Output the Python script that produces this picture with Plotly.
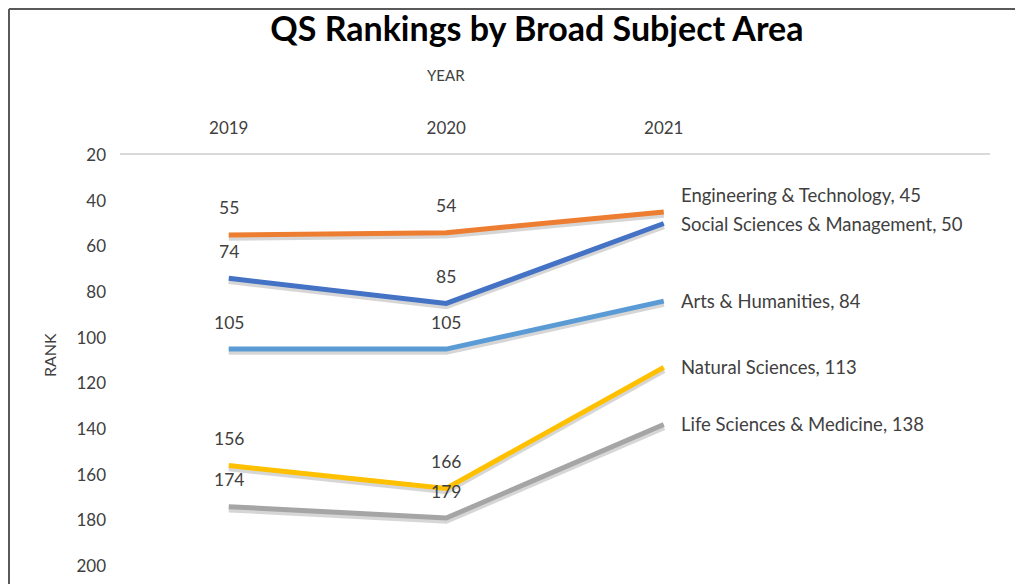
"""QS rankings by broad subject area, as a slope-style line chart."""
import plotly.graph_objects as go

YEARS = ["2019", "2020", "2021"]
SUBJECTS = [
    "Engineering & Technology",
    "Social Sciences & Management",
    "Arts & Humanities",
    "Natural Sciences",
    "Life Sciences & Medicine",
]
ENGINEERING = [55, 54, 45]
SOCIAL = [74, 85, 50]
ARTS = [105, 105, 84]
NATURAL = [156, 166, 113]
LIFE = [174, 179, 138]

SERIES = [ENGINEERING, SOCIAL, ARTS, NATURAL, LIFE]
COLORS = ["#ED7D31", "#4472C4", "#5B9BD5", "#FFC000", "#A5A5A5"]
END_LABEL_SHIFT = [17, 0, 0, 0, 0]

TEXT = "#404040"
FONT = "Lato"

fig = go.Figure()

# soft drop shadow under each line
for values in SERIES:
    fig.add_trace(
        go.Scatter(
            x=YEARS,
            y=[v + 1.0 for v in values],
            mode="lines",
            line=dict(color="rgba(0,0,0,0.16)", width=7),
            hoverinfo="skip",
            showlegend=False,
        )
    )

for name, values, color in zip(SUBJECTS, SERIES, COLORS):
    fig.add_trace(
        go.Scatter(
            x=YEARS,
            y=values,
            mode="lines",
            line=dict(color=color, width=5),
            name=name,
            showlegend=False,
        )
    )

# category annotations are positioned by category index
annotations = []
last = len(YEARS) - 1
for name, values, shift in zip(SUBJECTS, SERIES, END_LABEL_SHIFT):
    for i, v in enumerate(values[:-1]):
        annotations.append(
            dict(
                xref="x", yref="y", x=i, y=v, text=str(v),
                showarrow=False, yshift=27,
                font=dict(family=FONT, size=17.5, color=TEXT),
            )
        )
    annotations.append(
        dict(
            xref="x", yref="y", x=last, y=values[-1],
            text=f"{name}, {values[-1]}",
            showarrow=False, xanchor="left", xshift=15, yshift=shift,
            font=dict(family=FONT, size=18.5, color=TEXT),
        )
    )

# axis titles placed like the original (YEAR sits over the middle year)
annotations.append(
    dict(xref="x", yref="paper", x=1, y=1.222, text="YEAR",
         showarrow=False, font=dict(family=FONT, size=15, color=TEXT))
)
annotations.append(
    dict(xref="paper", yref="paper", x=-0.095, y=0.513, text="RANK",
         textangle=-90, showarrow=False,
         font=dict(family=FONT, size=16, color=TEXT))
)

fig.update_layout(
    width=1023,
    height=584,
    margin=dict(l=112, r=41, t=147, b=26),
    paper_bgcolor="white",
    plot_bgcolor="white",
    title=dict(
        text="<b>QS Rankings by Broad Subject Area</b>",
        x=0.517, xanchor="center", y=0.964, yanchor="middle",
        font=dict(family=FONT, size=34, color="black"),
    ),
    xaxis=dict(
        type="category",
        side="top",
        range=[-0.5, 3.5],
        showgrid=False,
        showline=True,
        linecolor="#D9D9D9",
        linewidth=2,
        zeroline=False,
        ticks="",
        ticklabelstandoff=12,
        tickfont=dict(family=FONT, size=17, color=TEXT),
    ),
    yaxis=dict(
        range=[200, 20],
        tickvals=list(range(20, 201, 20)),
        showgrid=False,
        zeroline=False,
        showline=False,
        ticks="",
        ticklabelstandoff=13,
        tickfont=dict(family=FONT, size=17, color=TEXT),
    ),
    annotations=annotations,
    shapes=[
        dict(type="line", xref="paper", yref="paper",
             x0=-0.1276, x1=1.1, y0=1.355, y1=1.355,
             line=dict(color="#595959", width=2)),
        dict(type="line", xref="paper", yref="paper",
             x0=-0.1276, x1=-0.1276, y0=1.355, y1=-0.1,
             line=dict(color="#595959", width=2)),
    ],
)

fig.write_html("out.html")
